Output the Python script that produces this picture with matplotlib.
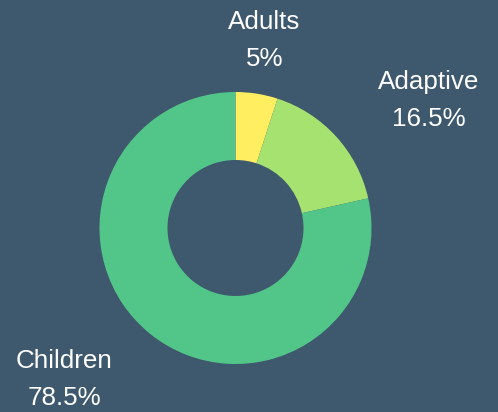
import matplotlib
matplotlib.use("Agg")
import matplotlib.pyplot as plt

categories = ["Adults", "Adaptive", "Children"]
values = [5, 16.5, 78.5]
colors = ["#ffee5f", "#a5e26f", "#52c688"]
bg = "#3e596d"

W, H, dpi = 498, 412, 100
cx, cy, R = 235.5, 228.0, 136.0

fig = plt.figure(figsize=(W / dpi, H / dpi), dpi=dpi, facecolor=bg)
ax = fig.add_axes([0, 0, 1, 1])
ax.set_facecolor(bg)
ax.pie(values, colors=colors, startangle=90, counterclock=False, radius=1.0,
       wedgeprops=dict(width=1 - 68 / 136.0, linewidth=0))
ax.set_xlim((0 - cx) / R, (W - cx) / R)
ax.set_ylim((cy - H) / R, (cy - 0) / R)
ax.set_aspect("auto")
ax.axis("off")

# label positions in pixels: (center x, baseline of name, baseline of value)
label_pos = [(264.5, 29, 66), (428.5, 89.5, 126), (64.5, 368.5, 405)]

def px(x, y):
    return (x - cx) / R, (cy - y) / R

for cat, v, (lx, b1, b2) in zip(categories, values, label_pos):
    for txt, b in ((cat, b1), (f"{v:g}%", b2)):
        x, y = px(lx, b)
        ax.text(x, y, txt, ha="center", va="baseline", color="white",
                fontsize=18.7, family="Liberation Sans")

fig.savefig("out.png", dpi=dpi, facecolor=bg)
